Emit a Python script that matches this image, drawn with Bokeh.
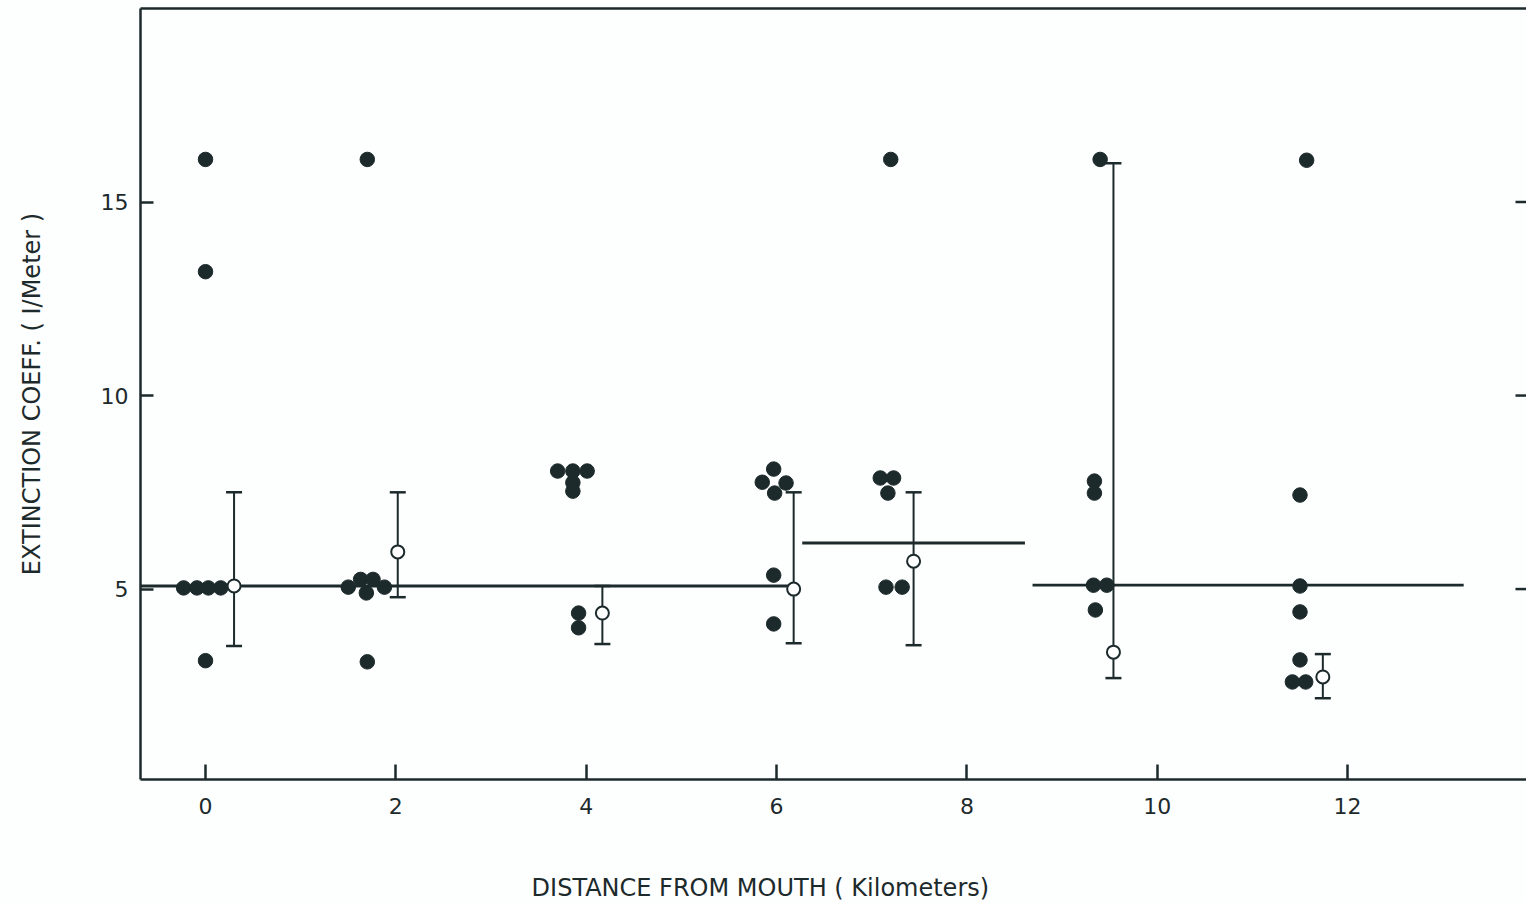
from bokeh.plotting import figure
from bokeh.layouts import column
from bokeh.models import LinearAxis, FixedTicker, Whisker, TeeHead, ColumnDataSource, Range1d
from bokeh.core.properties import value
from bokeh.embed import file_html
from bokeh.resources import INLINE

# ---- data ----
station_x = [0, 0, -0.23, -0.09, 0.03, 0.16, 0.0,
             1.70, 1.50, 1.63, 1.76, 1.69, 1.88, 1.70,
             3.70, 3.86, 4.01, 3.86, 3.86, 3.92, 3.92,
             5.97, 5.85, 6.10, 5.98, 5.97, 5.97,
             7.20, 7.09, 7.23, 7.17, 7.15, 7.32,
             9.40, 9.34, 9.34, 9.33, 9.47, 9.35,
             11.57, 11.50, 11.50, 11.50, 11.50, 11.42, 11.56]
extinction = [16.1, 13.2, 5.03, 5.03, 5.03, 5.03, 3.15,
              16.1, 5.05, 5.25, 5.25, 4.9, 5.05, 3.12,
              8.05, 8.05, 8.05, 7.75, 7.53, 4.38, 4.0,
              8.10, 7.76, 7.74, 7.48, 5.36, 4.10,
              16.1, 7.87, 7.87, 7.48, 5.05, 5.05,
              16.1, 7.79, 7.48, 5.1, 5.1, 4.46,
              16.08, 7.43, 5.08, 4.41, 3.17, 2.6, 2.6]

mean_x = [0.30, 2.02, 4.17, 6.18, 7.44, 9.54, 11.74]
mean_y = [5.08, 5.96, 4.38, 5.0, 5.72, 3.37, 2.73]
err_upper = [7.5, 7.5, 5.08, 7.5, 7.5, 16.0, 3.32]
err_lower = [3.53, 4.79, 3.58, 3.6, 3.55, 2.70, 2.18]

seg_x0 = [-0.68, 6.27, 8.69]
seg_x1 = [6.14, 8.61, 13.22]
seg_y = [5.08, 6.19, 5.10]

x_ticks = [0, 2, 4, 6, 8, 10, 12]
y_ticks = [5, 10, 15]

x_title = "DISTANCE FROM MOUTH ( Kilometers)"
y_title = "EXTINCTION COEFF. ( I/Meter )"

INK = "#1d2a2c"
BG = "#fdfefe"
FONT = "DejaVu Sans"
X_START, X_END = -0.683, 13.88
MAIN_H = 832

p = figure(width=1526, height=MAIN_H, output_backend="svg", toolbar_location=None,
           x_range=Range1d(X_START, X_END), y_range=Range1d(0.08, 20.0),
           x_axis_location=None, y_axis_location=None,
           min_border_left=140, min_border_right=0, min_border_top=8,
           min_border_bottom=MAIN_H - 779)
p.outline_line_color = None
p.grid.visible = False
p.background_fill_color = BG
p.border_fill_color = BG

def style_axis(ax, ticks, tick_in):
    ax.ticker = FixedTicker(ticks=ticks)
    ax.axis_line_color = INK
    ax.axis_line_width = 2.5
    ax.major_tick_line_color = INK
    ax.major_tick_line_width = 2.5
    ax.major_tick_in = tick_in
    ax.major_tick_out = 0
    ax.minor_tick_line_color = None
    ax.major_label_text_font = FONT
    ax.major_label_text_font_size = "22px"
    ax.major_label_text_color = INK
    ax.axis_label_text_font = FONT
    ax.axis_label_text_font_style = "normal"
    ax.axis_label_text_font_size = "24px"
    ax.axis_label_text_color = INK

left = LinearAxis()
style_axis(left, y_ticks, 13)
left.major_label_standoff = 12
left.axis_label = y_title
left.axis_label_standoff = 52
p.add_layout(left, "left")

bottom = LinearAxis()
style_axis(bottom, x_ticks, 15)
bottom.major_label_standoff = 18
p.add_layout(bottom, "below")

top = LinearAxis()
style_axis(top, [], 0)
top.major_label_standoff = 0
p.add_layout(top, "above")

# right-side inward ticks (no labels, as in the reference)
tick_len = 11 * (X_END - X_START) / 1386.0
p.segment(x0=[X_END - tick_len] * len(y_ticks), y0=y_ticks,
          x1=[X_END] * len(y_ticks), y1=y_ticks, line_color=INK, line_width=2.5)

# mean lines
p.segment(x0=seg_x0, y0=seg_y, x1=seg_x1, y1=seg_y, line_color=INK, line_width=2.8)

# error bars
src = ColumnDataSource(dict(x=mean_x, lo=err_lower, hi=err_upper))
w = Whisker(base="x", lower="lo", upper="hi", source=src, dimension="height",
            line_color=INK, line_width=2,
            upper_head=TeeHead(size=16, line_color=INK, line_width=2.5),
            lower_head=TeeHead(size=16, line_color=INK, line_width=2.5))
p.add_layout(w)

# observations
p.scatter(station_x, extinction, size=14.5, fill_color=INK, line_color=INK, line_width=1)

# station means
p.scatter(mean_x, mean_y, size=13, fill_color="white", line_color=INK, line_width=2)

# x-axis title strip below the chart (frame aligned with the main chart)
TITLE_H = 903 - MAIN_H
q = figure(width=1526, height=TITLE_H, output_backend="svg", toolbar_location=None,
           x_range=p.x_range, y_range=Range1d(TITLE_H, 0),
           x_axis_location=None, y_axis_location=None,
           min_border_left=140, min_border_right=0, min_border_top=0, min_border_bottom=0)
q.outline_line_color = None
q.grid.visible = False
q.background_fill_color = BG
q.border_fill_color = BG
q.text(x=[5.83], y=[887 - MAIN_H], text=[x_title], text_font=value(FONT),
       text_font_size="24px", text_color=INK, text_align="center", text_baseline="middle")

open("out.html", "w").write(file_html(column(p, q, spacing=0), INLINE))
